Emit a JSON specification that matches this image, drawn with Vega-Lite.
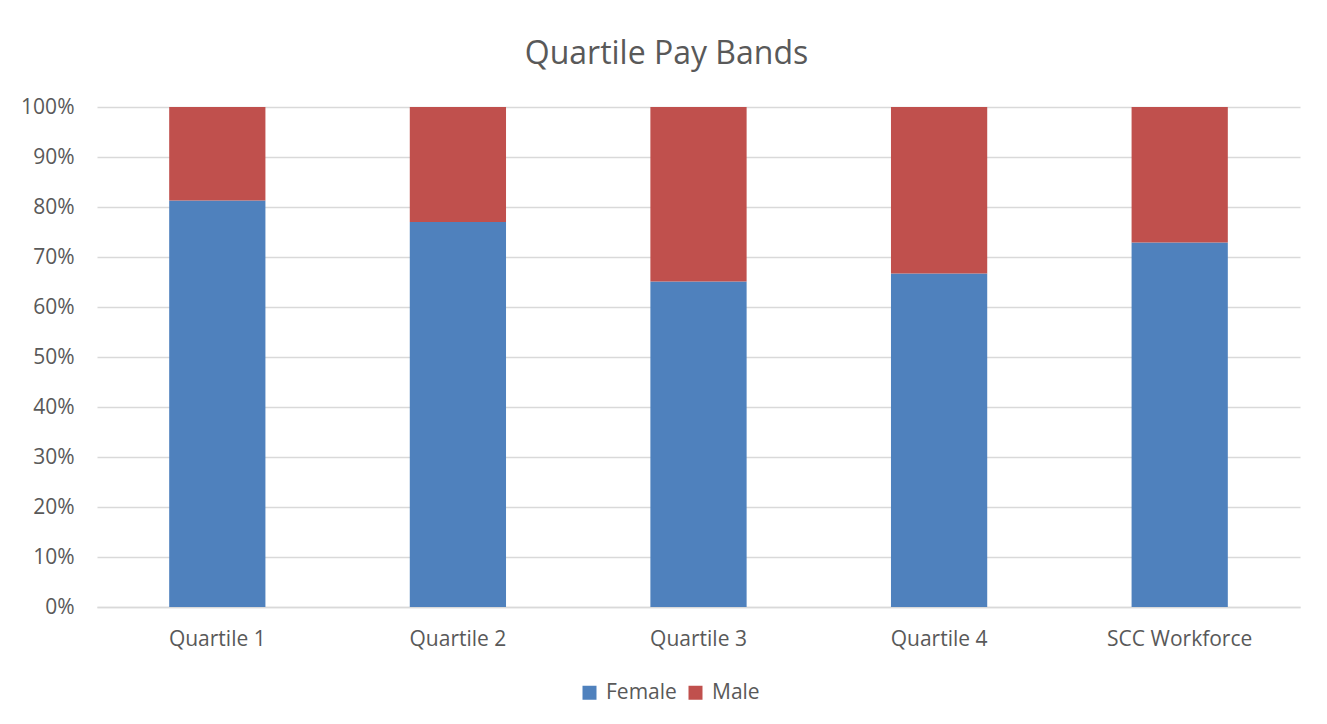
{
  "$schema": "https://vega.github.io/schema/vega-lite/v6.json",
  "autosize": "none",
  "width": 1203,
  "height": 500,
  "padding": {"left": 97, "top": 107, "right": 27, "bottom": 117},
  "background": "#ffffff",
  "title": {
    "text": "Quartile Pay Bands",
    "font": "Open Sans",
    "fontSize": 32,
    "fontWeight": "normal",
    "color": "#595959",
    "anchor": "middle",
    "dx": -32,
    "offset": 25
  },
  "data": {
    "values": [
      {"band": "Quartile 1", "gender": "Female", "pct": 0.813, "ord": 1},
      {"band": "Quartile 1", "gender": "Male", "pct": 0.187, "ord": 2},
      {"band": "Quartile 2", "gender": "Female", "pct": 0.770, "ord": 1},
      {"band": "Quartile 2", "gender": "Male", "pct": 0.230, "ord": 2},
      {"band": "Quartile 3", "gender": "Female", "pct": 0.651, "ord": 1},
      {"band": "Quartile 3", "gender": "Male", "pct": 0.349, "ord": 2},
      {"band": "Quartile 4", "gender": "Female", "pct": 0.667, "ord": 1},
      {"band": "Quartile 4", "gender": "Male", "pct": 0.333, "ord": 2},
      {"band": "SCC Workforce", "gender": "Female", "pct": 0.729, "ord": 1},
      {"band": "SCC Workforce", "gender": "Male", "pct": 0.271, "ord": 2}
    ]
  },
  "mark": {"type": "bar"},
  "encoding": {
    "x": {
      "field": "band",
      "type": "nominal",
      "sort": null,
      "scale": {"paddingInner": 0.6, "paddingOuter": 0.3},
      "axis": {
        "title": null,
        "labelAngle": 0,
        "labelFont": "Open Sans",
        "labelFontSize": 21,
        "labelColor": "#595959",
        "labelPadding": 21,
        "ticks": false,
        "domain": true,
        "domainColor": "#D9D9D9",
        "domainWidth": 1.5,
        "grid": false
      }
    },
    "y": {
      "field": "pct",
      "type": "quantitative",
      "stack": "zero",
      "scale": {"domain": [0, 1], "nice": false},
      "axis": {
        "title": null,
        "format": ".0%",
        "values": [0, 0.1, 0.2, 0.3, 0.4, 0.5, 0.6, 0.7, 0.8, 0.9, 1],
        "labelFont": "Open Sans",
        "labelFontSize": 21,
        "labelColor": "#595959",
        "labelPadding": 23,
        "ticks": false,
        "domain": false,
        "grid": true,
        "gridColor": "#D9D9D9",
        "gridWidth": 1.5
      }
    },
    "color": {
      "field": "gender",
      "type": "nominal",
      "scale": {"domain": ["Female", "Male"], "range": ["#4F81BD", "#C0504D"]},
      "legend": {
        "title": null,
        "orient": "none",
        "legendX": 482,
        "legendY": 575,
        "direction": "horizontal",
        "symbolType": "square",
        "symbolSize": 196,
        "symbolStrokeWidth": 0,
        "labelFont": "Open Sans",
        "labelFontSize": 21,
        "labelColor": "#595959",
        "labelOffset": 6,
        "columnPadding": 8
      }
    },
    "order": {"field": "ord", "type": "quantitative"}
  },
  "config": {
    "view": {"stroke": null}
  }
}
